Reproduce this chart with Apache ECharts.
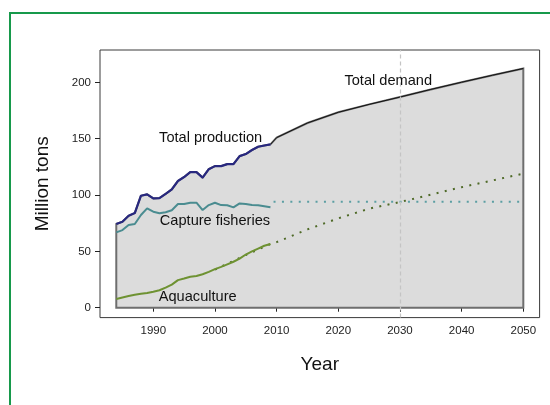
<!DOCTYPE html>
<html>
<head>
<meta charset="utf-8">
<script src="https://cdn.jsdelivr.net/npm/echarts@6/dist/echarts.min.js"></script>
<style>
  html, body { margin: 0; padding: 0; background: #fff; }
  #wrap { position: relative; width: 550px; height: 405px; overflow: hidden; }
  #main { position: absolute; left: 0; top: 0; width: 550px; height: 405px; }
  #frame { position: absolute; left: 9px; top: 12px; width: 600px; height: 500px;
    border-left: 2.5px solid #17994b; border-top: 2.5px solid #17994b; pointer-events: none; }
</style>
</head>
<body>
<div id="wrap"><div id="main"></div><div id="frame"></div></div>
<script>
// observed series, million tons
const years = [1984, 1985, 1986, 1987, 1988, 1989, 1990, 1991, 1992, 1993, 1994, 1995, 1996,
  1997, 1998, 1999, 2000, 2001, 2002, 2003, 2004, 2005, 2006, 2007, 2008, 2009]
const totalProduction = [74.3, 76.3, 81.6, 84, 99.4, 100.6, 97, 97.3, 101, 105, 112.5, 116, 120.4,
  120.4, 115.5, 123, 125.7, 125.7, 127.5, 127.5, 134.6, 136.4, 140, 142.9, 144, 145]
const captureFisheries = [66.9, 68.9, 73.4, 74.3, 82.3, 88.2, 85.2, 83.8, 84.8, 86.5, 92, 92, 93.2,
  93.2, 86.7, 91.1, 93.2, 91.1, 90.9, 89.1, 92.6, 92, 91.1, 90.9, 90, 89.1]
const aquaculture = [7.7, 9.1, 10.3, 11.5, 12.3, 13, 14.2, 15.5, 17.8, 20.5, 24.5, 25.9, 27.5,
  28.1, 29.7, 31.8, 34.2, 36.2, 38.5, 40.8, 43.6, 47.2, 50, 52.5, 55, 56.5]

// projections
const demandYears = [2009, 2010, 2015, 2020, 2025, 2030, 2035, 2040, 2045, 2050]
const totalDemand = [145, 151, 164, 173.5, 180.5, 187, 193.8, 200.2, 206.4, 212.4]
const aquaProjYears = [2000, 2005, 2009, 2010, 2015, 2020, 2025, 2030, 2035, 2040, 2045, 2050]
const aquaProjection = [33.8, 46.8, 56.5, 58.2, 69.5, 79.3, 87.9, 93.8, 100.4, 107, 113, 119]
const captureProjYears = [2009.5, 2050]
const captureProjection = [94, 94]

const xTicks = [1990, 2000, 2010, 2020, 2030, 2040, 2050]
const yTicks = [0, 50, 100, 150, 200]

const noteText = ['Total production', 'Capture fisheries', 'Aquaculture', 'Total demand']
const noteX = [1999.3, 2000, 1997.2, 2028.1]
const noteY = [151, 77, 9.5, 201.6]

const FONT = '"Liberation Sans", Arial, Helvetica, sans-serif'

function pairs (xs, ys) {
  return xs.map((x, i) => [x, ys[i]])
}

function drawArea (params, api) {
  let pts = [api.coord([years[0], 0])]
  years.forEach((y, i) => pts.push(api.coord([y, totalProduction[i]])))
  demandYears.forEach((y, i) => pts.push(api.coord([y, totalDemand[i]])))
  pts.push(api.coord([demandYears[demandYears.length - 1], 0]))
  return {
    type: 'polygon',
    shape: { points: pts },
    style: { fill: '#dcdcdc', stroke: '#6e6e6e', lineWidth: 2, lineJoin: 'miter' }
  }
}

function drawNote (params, api) {
  let p = api.coord([api.value(0), api.value(1)])
  return {
    type: 'text',
    x: p[0],
    y: p[1],
    style: {
      text: noteText[params.dataIndex],
      fill: '#111',
      font: '14.6px ' + FONT,
      align: 'center',
      verticalAlign: 'middle'
    }
  }
}

let chart = echarts.init(document.getElementById('main'), null, { renderer: 'canvas' })

let option = {
  animation: false,
  backgroundColor: '#fff',
  grid: {
    left: 100, right: 10.4, top: 50, bottom: 87.4,
    show: true, borderColor: '#3a3a3a', borderWidth: 1, backgroundColor: '#fff'
  },
  xAxis: {
    type: 'value', min: 1981.36, max: 2052.64,
    axisLine: { show: false },
    splitLine: { show: false },
    axisTick: { show: true, inside: false, length: 4, customValues: xTicks, lineStyle: { color: '#222' } },
    axisLabel: {
      customValues: xTicks, margin: 7, fontSize: 11.5, color: '#222', fontFamily: FONT,
      formatter: v => String(v)
    },
    name: 'Year', nameLocation: 'middle', nameGap: 38,
    nameTextStyle: { fontSize: 19, color: '#111', fontFamily: FONT }
  },
  yAxis: {
    type: 'value', min: -8.8, max: 228.8,
    axisLine: { show: false },
    splitLine: { show: false },
    axisTick: { show: true, inside: false, length: 5, customValues: yTicks, lineStyle: { color: '#222' } },
    axisLabel: {
      customValues: yTicks, margin: 9, fontSize: 11.5, color: '#222', fontFamily: FONT,
      formatter: v => String(v)
    },
    name: 'Million tons', nameLocation: 'middle', nameGap: 48, nameRotate: 90,
    nameTextStyle: { fontSize: 19, color: '#111', fontFamily: FONT }
  },
  series: [
    {
      type: 'custom', silent: true, z: 1,
      renderItem: drawArea,
      data: [[years[0], 0]]
    },
    {
      type: 'line', z: 3, silent: true, symbol: 'none',
      data: pairs(demandYears, totalDemand),
      lineStyle: { color: '#111', width: 1 }
    },
    {
      type: 'line', z: 4, silent: true, symbol: 'none',
      data: pairs(captureProjYears, captureProjection),
      lineStyle: { color: '#5b9ea3', width: 2, type: [2, 6.4], cap: 'butt' },
      markLine: {
        silent: true, symbol: 'none', label: { show: false },
        lineStyle: { color: '#c4c4c4', width: 1.2, type: [4, 3] },
        data: [{ xAxis: 2030 }]
      }
    },
    {
      type: 'line', z: 4, silent: true, symbol: 'none',
      data: pairs(aquaProjYears, aquaProjection),
      lineStyle: { color: '#4f6a28', width: 2, type: [2, 6.4], cap: 'butt' }
    },
    {
      type: 'line', z: 5, silent: true, symbol: 'none',
      data: pairs(years, captureFisheries),
      lineStyle: { color: '#4a8c90', width: 2 }
    },
    {
      type: 'line', z: 5, silent: true, symbol: 'none',
      data: pairs(years, aquaculture),
      lineStyle: { color: '#6e9232', width: 2 }
    },
    {
      type: 'line', z: 6, silent: true, symbol: 'none',
      data: pairs(years, totalProduction),
      lineStyle: { color: '#28287f', width: 2.2 }
    },
    {
      type: 'custom', silent: true, z: 7,
      renderItem: drawNote,
      data: pairs(noteX, noteY)
    }
  ]
}

chart.setOption(option)
</script>
</body>
</html>
